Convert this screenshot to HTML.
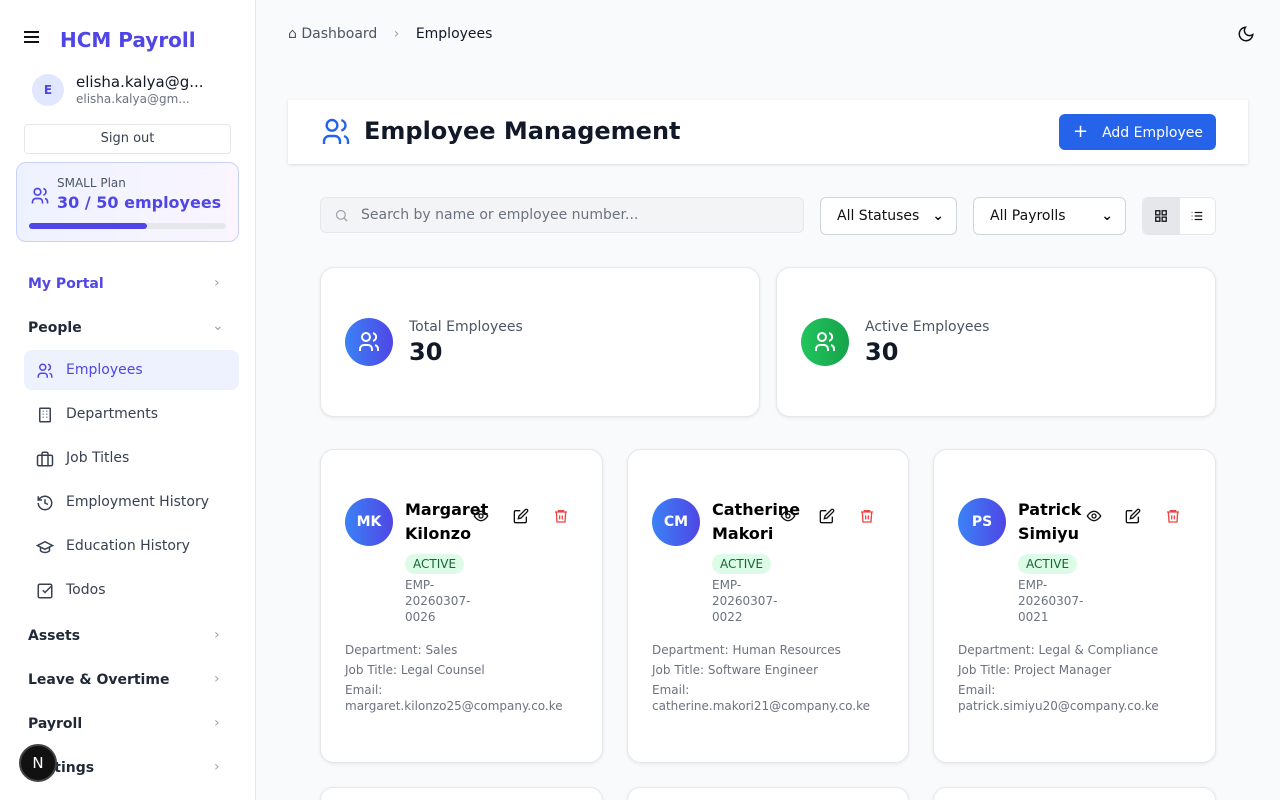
<!DOCTYPE html>
<html><head><style>
*{box-sizing:border-box;margin:0;padding:0}
html,body{width:1280px;height:800px;overflow:hidden}
body{font-family:"DejaVu Sans","Liberation Sans",sans-serif;background:#f9fafb;position:relative;color:#111827}
.a{position:absolute}
.sb{left:0;top:0;width:256px;height:800px;background:#fff;border-right:1px solid #e5e7eb}
.nav{font-size:14px;color:#374151}
.sec{font-weight:bold;font-size:14px;color:#1f2937}
.chev{color:#9ca3af;font-size:14px}
.card{background:#fff;border:1px solid #e5e7eb;border-radius:14px;box-shadow:0 1px 3px rgba(0,0,0,.08)}
.sel{background:#fff;border:1px solid #d1d5db;border-radius:6px;font-size:14px;padding:10px 12px;color:#111}
.emp .av{position:absolute;left:24px;top:48px;width:48px;height:48px;border-radius:50%;background:linear-gradient(90deg,#3b82f6,#4f46e5);color:#fff;font-weight:bold;font-size:14px;text-align:center;line-height:48px}
.emp .nm{position:absolute;left:84px;top:48px;font-weight:bold;font-size:16px;line-height:24px;color:#000}
.emp .bd{position:absolute;left:84px;top:104px;background:#dcfce7;color:#166534;font-size:12px;padding:1px 8px;border-radius:10px;line-height:18px}
.emp .no{position:absolute;left:84px;top:127px;font-size:12px;color:#6b7280;line-height:16px;width:80px}
.emp .dt{position:absolute;left:24px;top:190px;font-size:12px;color:#6b7280;line-height:20px}
.emp .dt div:last-child{line-height:16px;margin-top:2px}
.ic{position:absolute;top:58px}
.si{position:absolute;left:36px}
</style></head><body>
<div class="a sb">
 <div class="a" style="left:24px;top:31px;width:15px;height:2px;background:#111;box-shadow:0 5px 0 #111,0 10px 0 #111"></div>
 <div class="a" style="left:60px;top:28px;font-size:20px;font-weight:bold;color:#4f46e5">HCM Payroll</div>
 <div class="a" style="left:32px;top:74px;width:32px;height:32px;border-radius:50%;background:#e0e7ff;color:#4f46e5;font-weight:bold;font-size:12px;text-align:center;line-height:32px">E</div>
 <div class="a" style="left:76px;top:73px;font-size:15px;color:#111827">elisha.kalya@g...</div>
 <div class="a" style="left:76px;top:92px;font-size:12px;color:#6b7280">elisha.kalya@gm...</div>
 <div class="a" style="left:24px;top:124px;width:207px;height:30px;border:1px solid #e5e7eb;border-radius:4px;text-align:center;line-height:28px;font-size:13px;color:#374151">Sign out</div>
 <div class="a" style="left:16px;top:162px;width:223px;height:80px;border:1px solid #c7d2fe;border-radius:10px;background:linear-gradient(90deg,#eef2ff,#faf5ff)">
  <svg class="a" style="left:13px;top:23px" width="20" height="20" viewBox="0 0 24 24" fill="none" stroke="#4f46e5" stroke-width="2"><circle cx="9" cy="7" r="4"/><path d="M3 21v-2a4 4 0 014-4h4a4 4 0 014 4v2M16 3.1a4 4 0 010 7.8M21 21v-2a4 4 0 00-3-3.9"/></svg>
  <div class="a" style="left:40px;top:13px;font-size:12px;color:#4b5563">SMALL Plan</div>
  <div class="a" style="left:40px;top:30px;font-size:16px;font-weight:bold;color:#4f46e5">30 / 50 employees</div>
  <div class="a" style="left:12px;top:60px;width:197px;height:6px;border-radius:3px;background:#e5e7eb"><div style="width:60%;height:6px;border-radius:3px;background:#4f46e5"></div></div>
 </div>
 <div class="a sec" style="left:28px;top:276px;color:#4f46e5">My Portal</div><div class="a chev" style="left:214px;top:275px">›</div>
 <div class="a sec" style="left:28px;top:320px">People</div><div class="a chev" style="left:212px;top:318px">⌄</div>
 <div class="a" style="left:24px;top:350px;width:215px;height:40px;border-radius:8px;background:#eef2ff"></div>
 <div class="a nav" style="left:66px;top:362px;color:#4f46e5">Employees</div>
 <div class="a nav" style="left:66px;top:406px">Departments</div>
 <div class="a nav" style="left:66px;top:450px">Job Titles</div>
 <div class="a nav" style="left:66px;top:494px">Employment History</div>
 <div class="a nav" style="left:66px;top:538px">Education History</div>
 <div class="a nav" style="left:66px;top:582px">Todos</div>
 <svg class="si" style="top:362px" width="18" height="18" viewBox="0 0 24 24" fill="none" stroke="#4f46e5" stroke-width="2"><circle cx="9" cy="7" r="4"/><path d="M3 21v-2a4 4 0 014-4h4a4 4 0 014 4v2M16 3.1a4 4 0 010 7.8M21 21v-2a4 4 0 00-3-3.9"/></svg>
 <svg class="si" style="top:406px" width="18" height="18" viewBox="0 0 24 24" fill="none" stroke="#374151" stroke-width="2"><rect x="5" y="3" width="14" height="18" rx="1"/><path d="M9 7h1M14 7h1M9 11h1M14 11h1M9 15h1M14 15h1"/></svg>
 <svg class="si" style="top:450px" width="18" height="18" viewBox="0 0 24 24" fill="none" stroke="#374151" stroke-width="2"><rect x="2" y="7" width="20" height="14" rx="2"/><path d="M16 21V5a2 2 0 00-2-2h-4a2 2 0 00-2 2v16"/></svg>
 <svg class="si" style="top:494px" width="18" height="18" viewBox="0 0 24 24" fill="none" stroke="#374151" stroke-width="2"><path d="M3 12a9 9 0 109-9 9.75 9.75 0 00-6.74 2.74L3 8M3 3v5h5M12 7v5l4 2"/></svg>
 <svg class="si" style="top:538px" width="18" height="18" viewBox="0 0 24 24" fill="none" stroke="#374151" stroke-width="2"><path d="M22 10L12 5 2 10l10 5 10-5zM6 12v5c3 3 9 3 12 0v-5"/></svg>
 <svg class="si" style="top:582px" width="18" height="18" viewBox="0 0 24 24" fill="none" stroke="#374151" stroke-width="2"><rect x="3" y="3" width="18" height="18" rx="2"/><path d="M9 11l3 3 8-8"/></svg>
 <div class="a sec" style="left:28px;top:628px">Assets</div><div class="a chev" style="left:214px;top:627px">›</div>
 <div class="a sec" style="left:28px;top:672px">Leave &amp; Overtime</div><div class="a chev" style="left:214px;top:671px">›</div>
 <div class="a sec" style="left:28px;top:716px">Payroll</div><div class="a chev" style="left:214px;top:715px">›</div>
 <div class="a sec" style="left:28px;top:760px">Settings</div><div class="a chev" style="left:214px;top:759px">›</div>
 <div class="a" style="left:19px;top:744px;width:38px;height:38px;border-radius:50%;background:#111;border:2px solid #444;color:#fff;text-align:center;line-height:34px;font-size:15px">N</div>
</div>

<div class="a" style="left:288px;top:26px;font-size:14px;color:#4b5563">⌂ Dashboard <span style="margin:0 12px;color:#9ca3af">›</span> <span style="color:#111827">Employees</span></div>
<svg class="a" style="left:1237px;top:25px" width="18" height="18" viewBox="0 0 24 24" fill="none" stroke="#111" stroke-width="2"><path d="M21 12.8A9 9 0 1111.2 3 7 7 0 0021 12.8z"/></svg>

<div class="a" style="left:288px;top:100px;width:960px;height:64px;background:#fff;box-shadow:0 1px 3px rgba(0,0,0,.12)">
 <svg class="a" style="left:32px;top:16px" width="32" height="32" viewBox="0 0 24 24" fill="none" stroke="#2563eb" stroke-width="1.8"><circle cx="9" cy="7" r="4"/><path d="M3 21v-2a4 4 0 014-4h4a4 4 0 014 4v2M16 3.1a4 4 0 010 7.8M21 21v-2a4 4 0 00-3-3.9"/></svg>
 <div class="a" style="left:76px;top:17px;font-size:24px;font-weight:bold;color:#111827">Employee Management</div>
 <div class="a" style="left:771px;top:14px;width:157px;height:36px;border-radius:6px;background:#2563eb;color:#fff;font-size:14px;line-height:36px;padding-left:14px"><span style="font-size:18px;margin-right:14px">+</span>Add Employee</div>
</div>

<div class="a" style="left:320px;top:197px;width:484px;height:36px;background:#f3f4f6;border:1px solid #e5e7eb;border-radius:6px;font-size:14px;color:#6b7280;line-height:35px;padding-left:40px">Search by name or employee number...
 <svg class="a" style="left:13px;top:10px" width="15" height="15" viewBox="0 0 24 24" fill="none" stroke="#9ca3af" stroke-width="2"><circle cx="11" cy="11" r="7"/><path d="M21 21l-5-5"/></svg></div>
<div class="a sel" style="left:820px;top:197px;width:137px;height:38px;padding-left:16px">All Statuses <span style="float:right;font-weight:bold">⌄</span></div>
<div class="a sel" style="left:973px;top:197px;width:153px;height:38px;padding-left:16px">All Payrolls <span style="float:right;font-weight:bold">⌄</span></div>
<div class="a" style="left:1142px;top:197px;width:74px;height:38px;border:1px solid #e5e7eb;border-radius:6px;background:#fff"><div style="width:37px;height:36px;background:#e5e7eb;border-radius:5px 0 0 5px"></div>
 <svg class="a" style="left:11px;top:11px" width="14" height="14" viewBox="0 0 24 24" fill="none" stroke="#111" stroke-width="2.2"><rect x="3" y="3" width="7" height="7"/><rect x="14" y="3" width="7" height="7"/><rect x="3" y="14" width="7" height="7"/><rect x="14" y="14" width="7" height="7"/></svg>
 <svg class="a" style="left:47px;top:11px" width="14" height="14" viewBox="0 0 24 24" fill="none" stroke="#111" stroke-width="2"><path d="M8 6h13M8 12h13M8 18h13M3 6h1M3 12h1M3 18h1"/></svg></div>

<div class="a card" style="left:320px;top:267px;width:440px;height:150px">
 <div class="a" style="left:24px;top:50px;width:48px;height:48px;border-radius:50%;background:linear-gradient(90deg,#3b82f6,#4f46e5)"></div>
 <svg class="a" style="left:36px;top:62px" width="24" height="24" viewBox="0 0 24 24" fill="none" stroke="#fff" stroke-width="2"><circle cx="9" cy="7" r="4"/><path d="M3 21v-2a4 4 0 014-4h4a4 4 0 014 4v2M16 3.1a4 4 0 010 7.8M21 21v-2a4 4 0 00-3-3.9"/></svg>
 <div class="a" style="left:88px;top:51px;font-size:14px;color:#4b5563">Total Employees</div>
 <div class="a" style="left:88px;top:70px;font-size:24px;font-weight:bold">30</div>
</div>
<div class="a card" style="left:776px;top:267px;width:440px;height:150px">
 <div class="a" style="left:24px;top:50px;width:48px;height:48px;border-radius:50%;background:linear-gradient(90deg,#22c55e,#16a34a)"></div>
 <svg class="a" style="left:36px;top:62px" width="24" height="24" viewBox="0 0 24 24" fill="none" stroke="#fff" stroke-width="2"><circle cx="9" cy="7" r="4"/><path d="M3 21v-2a4 4 0 014-4h4a4 4 0 014 4v2M16 3.1a4 4 0 010 7.8M21 21v-2a4 4 0 00-3-3.9"/></svg>
 <div class="a" style="left:88px;top:51px;font-size:14px;color:#4b5563">Active Employees</div>
 <div class="a" style="left:88px;top:70px;font-size:24px;font-weight:bold">30</div>
</div>

<div class="a card emp" style="left:320px;top:449px;width:283px;height:314px">
 <div class="av">MK</div><div class="nm">Margaret<br>Kilonzo</div><div class="bd">ACTIVE</div>
 <div class="no">EMP-<br>20260307-<br>0026</div>
 <div class="dt"><div>Department: Sales</div><div>Job Title: Legal Counsel</div><div>Email:<br>margaret.kilonzo25@company.co.ke</div></div>
 <svg class="ic" style="left:152px" width="16" height="16" viewBox="0 0 24 24" fill="none" stroke="#111" stroke-width="2"><path d="M2 12s4-7 10-7 10 7 10 7-4 7-10 7S2 12 2 12z"/><circle cx="12" cy="12" r="3"/></svg>
 <svg class="ic" style="left:192px" width="16" height="16" viewBox="0 0 24 24" fill="none" stroke="#111" stroke-width="2"><path d="M11 4H4a2 2 0 00-2 2v14a2 2 0 002 2h14a2 2 0 002-2v-7"/><path d="M18.5 2.5a2.1 2.1 0 013 3L12 15l-4 1 1-4z"/></svg>
 <svg class="ic" style="left:232px" width="16" height="16" viewBox="0 0 24 24" fill="none" stroke="#ef4444" stroke-width="2"><path d="M3 6h18M8 6V4h8v2M5 6l1 15h12l1-15M10 11v6M14 11v6"/></svg>
</div>
<div class="a card emp" style="left:627px;top:449px;width:282px;height:314px">
 <div class="av">CM</div><div class="nm">Catherine<br>Makori</div><div class="bd">ACTIVE</div>
 <div class="no">EMP-<br>20260307-<br>0022</div>
 <div class="dt"><div>Department: Human Resources</div><div>Job Title: Software Engineer</div><div>Email:<br>catherine.makori21@company.co.ke</div></div>
 <svg class="ic" style="left:152px" width="16" height="16" viewBox="0 0 24 24" fill="none" stroke="#111" stroke-width="2"><path d="M2 12s4-7 10-7 10 7 10 7-4 7-10 7S2 12 2 12z"/><circle cx="12" cy="12" r="3"/></svg>
 <svg class="ic" style="left:191px" width="16" height="16" viewBox="0 0 24 24" fill="none" stroke="#111" stroke-width="2"><path d="M11 4H4a2 2 0 00-2 2v14a2 2 0 002 2h14a2 2 0 002-2v-7"/><path d="M18.5 2.5a2.1 2.1 0 013 3L12 15l-4 1 1-4z"/></svg>
 <svg class="ic" style="left:231px" width="16" height="16" viewBox="0 0 24 24" fill="none" stroke="#ef4444" stroke-width="2"><path d="M3 6h18M8 6V4h8v2M5 6l1 15h12l1-15M10 11v6M14 11v6"/></svg>
</div>
<div class="a card emp" style="left:933px;top:449px;width:283px;height:314px">
 <div class="av">PS</div><div class="nm">Patrick<br>Simiyu</div><div class="bd">ACTIVE</div>
 <div class="no">EMP-<br>20260307-<br>0021</div>
 <div class="dt"><div>Department: Legal &amp; Compliance</div><div>Job Title: Project Manager</div><div>Email:<br>patrick.simiyu20@company.co.ke</div></div>
 <svg class="ic" style="left:152px" width="16" height="16" viewBox="0 0 24 24" fill="none" stroke="#111" stroke-width="2"><path d="M2 12s4-7 10-7 10 7 10 7-4 7-10 7S2 12 2 12z"/><circle cx="12" cy="12" r="3"/></svg>
 <svg class="ic" style="left:191px" width="16" height="16" viewBox="0 0 24 24" fill="none" stroke="#111" stroke-width="2"><path d="M11 4H4a2 2 0 00-2 2v14a2 2 0 002 2h14a2 2 0 002-2v-7"/><path d="M18.5 2.5a2.1 2.1 0 013 3L12 15l-4 1 1-4z"/></svg>
 <svg class="ic" style="left:231px" width="16" height="16" viewBox="0 0 24 24" fill="none" stroke="#ef4444" stroke-width="2"><path d="M3 6h18M8 6V4h8v2M5 6l1 15h12l1-15M10 11v6M14 11v6"/></svg>
</div>
<div class="a card" style="left:320px;top:787px;width:283px;height:13px;border-bottom:none;border-radius:14px 14px 0 0"></div>
<div class="a card" style="left:627px;top:787px;width:282px;height:13px;border-bottom:none;border-radius:14px 14px 0 0"></div>
<div class="a card" style="left:933px;top:787px;width:283px;height:13px;border-bottom:none;border-radius:14px 14px 0 0"></div>
</body></html>
